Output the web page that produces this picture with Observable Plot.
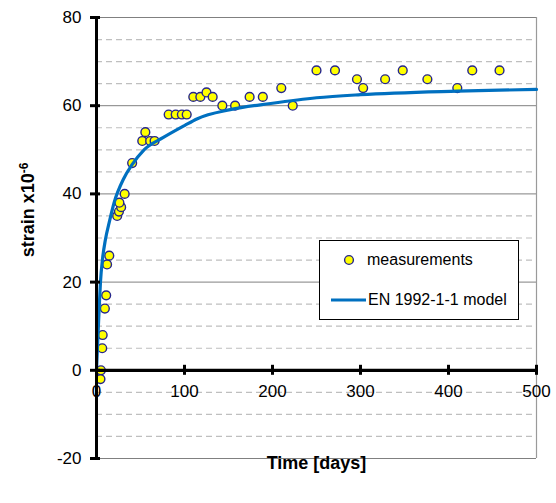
<!DOCTYPE html>
<html>
<head>
<meta charset="utf-8">
<script src="https://cdn.jsdelivr.net/npm/d3@7"></script>
<script src="https://cdn.jsdelivr.net/npm/@observablehq/plot@0.6"></script>
<style>
  html, body { margin: 0; padding: 0; background: #fff; }
  body { font-family: "Liberation Sans", Arial, sans-serif; }
  #wrap { position: relative; width: 556px; height: 503px; }
  #legend { position: absolute; left: 319px; top: 240px; width: 198px; height: 78px;
            border: 1px solid #000; background: #fff; font-size: 16px; color: #000; }
  #legend .item { position: absolute; left: 0; height: 20px; width: 198px; }
  #legend svg { position: absolute; left: 0; top: 0; }
  #legend span { position: absolute; top: 1px; white-space: nowrap; line-height: 18px; }
</style>
</head>
<body>
<div id="wrap"></div>
<script>
// ---- data ----
const days   = [5, 4.5, 6.5, 7, 9.5, 11, 12, 14.5, 23.5, 25.5, 28, 26, 32, 40.5, 52, 55.5, 61, 66,
                82, 90, 97, 102.5, 110, 118, 125, 132, 143, 157.5, 174, 189, 210, 223,
                250, 271, 296, 303, 328, 348, 376, 410, 427, 458];
const strain = [0, -2, 5, 8, 14, 17, 24, 26, 35, 36, 37, 38, 40, 47, 52, 54, 52, 52,
                58, 58, 58, 58, 62, 62, 63, 62, 60, 60, 62, 62, 64, 60,
                68, 68, 66, 64, 66, 68, 66, 64, 68, 68];
const modelDays   = [0, 1.5, 3, 4.5, 7, 10, 15, 20, 31, 40, 54, 76, 100, 114, 152, 198, 250, 300, 410, 500];
const modelStrain = [0, 7, 14, 20, 25.5, 29.5, 34, 38, 43.5, 46.5, 50, 52.8, 55.5, 57, 59.1, 60.5, 61.8, 62.5, 63.3, 63.7];
const yMajor = [-20, 0, 20, 40, 60, 80];
const yMinor = [-15, -10, -5, 5, 10, 15, 25, 30, 35, 45, 50, 55, 65, 70, 75];
const xTicks = [0, 100, 200, 300, 400, 500];
const seriesNames = ["measurements", "EN 1992-1-1 model"];
const xLabel = "Time [days]";
const yLabel = "strain x10";
const yLabelSup = "-6";

const meas  = days.map((d, i) => ({day: d, strain: strain[i]}));
const model = modelDays.map((d, i) => ({day: d, strain: modelStrain[i]}));

const dotFill = "#ffff00", dotStroke = "#26268c", lineColor = "#0070c0";

const chart = Plot.plot({
  width: 556, height: 503,
  marginLeft: 96, marginRight: 20, marginTop: 17, marginBottom: 45,
  x: {domain: [0, 500], axis: null},
  y: {domain: [-20, 80], axis: null},
  style: {fontFamily: "Liberation Sans, Arial, sans-serif", fontSize: "17px", background: "#fff", color: "#000"},
  marks: [
    Plot.ruleY(yMinor, {stroke: "#bfbfbf", strokeDasharray: "6,4", strokeWidth: 1.2}),
    Plot.ruleY(yMajor.filter(v => v !== 0), {stroke: "#808080", strokeWidth: 1}),
    Plot.ruleX([xTicks[xTicks.length - 1]], {stroke: "#9a9a9a", strokeWidth: 1.2}),
    Plot.dot(meas, {x: "day", y: "strain", r: 4.4, fill: dotFill, stroke: dotStroke, strokeWidth: 1.4}),
    Plot.line(model, {x: "day", y: "strain", stroke: lineColor, strokeWidth: 3.2, curve: "monotone-x"}),
    Plot.ruleX([0], {stroke: "#000", strokeWidth: 3}),
    Plot.ruleY([0], {stroke: "#000", strokeWidth: 3.2}),
    Plot.ruleY(yMajor, {y: d => d, x1: 0, x2: 0, insetLeft: -6, insetRight: -4, stroke: "#000", strokeWidth: 3}),
    Plot.ruleX(xTicks.filter(v => v > 0), {x: d => d, y1: 0, y2: 0, insetTop: -5, insetBottom: -5, stroke: "#000", strokeWidth: 3}),
    Plot.axisY({ticks: yMajor, tickSize: 0, tickPadding: 15, tickFormat: d => String(d), label: null, fontSize: 17}),
    Plot.text(xTicks, {x: d => d, y: 0, dy: 21, text: d => String(d), fontSize: 17}),
    Plot.text([xLabel], {frameAnchor: "bottom", dy: 10, fontWeight: "bold", fontSize: 18}),
    Plot.text([yLabel], {frameAnchor: "left", textAnchor: "middle", rotate: -90, dx: -68, dy: -28, fontWeight: "bold", fontSize: 18})
  ]
});

document.getElementById("wrap").appendChild(chart);

// superscript exponent on the y label
d3.select(chart).selectAll("text").filter(function() { return this.textContent === yLabel; })
  .append("tspan").attr("dy", "-0.5em").attr("font-size", "12px").text(yLabelSup);

// legend
const legend = document.createElement("div");
legend.id = "legend";
legend.innerHTML = `
  <div class="item" style="top:9px">
    <svg width="48" height="20"><circle cx="29" cy="10" r="4.4" fill="${dotFill}" stroke="${dotStroke}" stroke-width="1.4"/></svg>
    <span style="left:47px">${seriesNames[0]}</span>
  </div>
  <div class="item" style="top:49px">
    <svg width="48" height="20"><line x1="11" x2="46" y1="10" y2="10" stroke="${lineColor}" stroke-width="3.2"/></svg>
    <span style="left:48px">${seriesNames[1]}</span>
  </div>`;
document.getElementById("wrap").appendChild(legend);
</script>
</body>
</html>
